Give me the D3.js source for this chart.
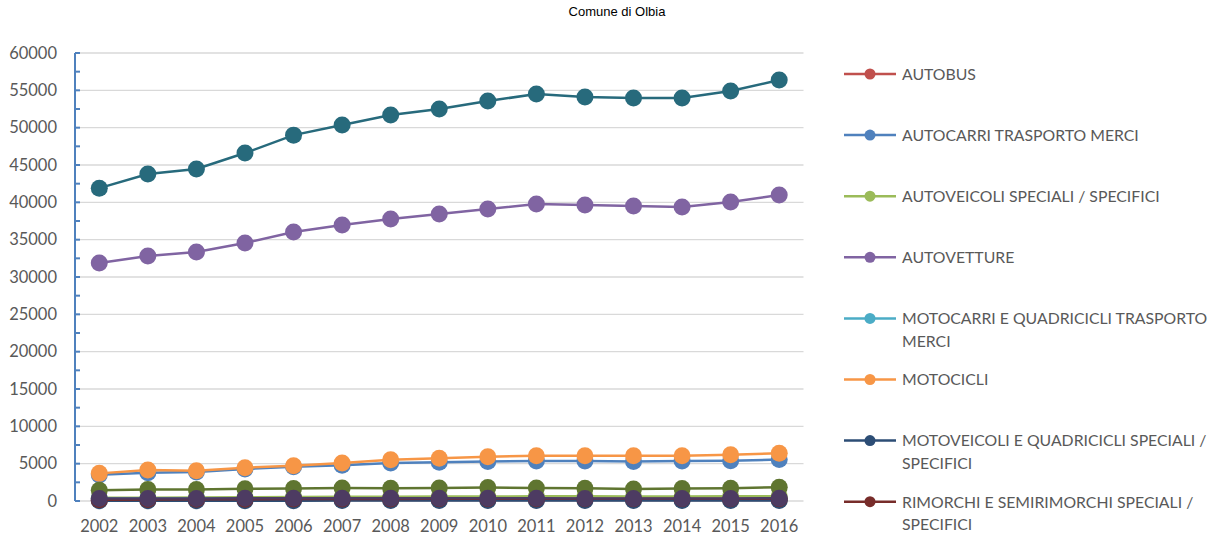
<!DOCTYPE html>
<html><head><meta charset="utf-8">
<script src="https://cdn.jsdelivr.net/npm/d3@7/dist/d3.min.js"></script>
<style>body{margin:0;background:#fff;} svg{display:block;}</style>
</head><body>
<svg id="c" width="1218" height="537"></svg>
<script>
const title = "Comune di Olbia";
const years = [2002,2003,2004,2005,2006,2007,2008,2009,2010,2011,2012,2013,2014,2015,2016];
const yTicks = [0,5000,10000,15000,20000,25000,30000,35000,40000,45000,50000,55000,60000];

const autobus      = [110,110,115,120,125,125,130,130,130,130,130,125,125,125,130];
const autocarri    = [3500,3800,3900,4300,4600,4800,5100,5200,5300,5350,5350,5300,5350,5400,5550];
const autoveicoli  = [420,450,470,500,530,560,580,600,610,620,620,610,610,620,650];
const autovetture  = [31870,32810,33350,34550,36030,36960,37770,38440,39100,39780,39640,39510,39370,40040,40980];
const motocarri    = [330,330,330,320,320,310,300,290,280,270,260,250,240,240,230];
const motocicli    = [3700,4150,4060,4460,4730,5090,5530,5720,5930,6070,6070,6070,6070,6200,6380];
const motoveicoli  = [30,35,40,45,50,55,60,60,65,65,65,65,65,65,70];
const rimorchiSpec = [180,200,220,240,260,270,280,290,300,300,300,300,300,300,300];
const rimorchiMerci= [1450,1550,1550,1650,1680,1750,1700,1750,1800,1750,1700,1600,1680,1700,1850];
const trattori     = [330,340,350,360,370,380,380,380,370,360,350,340,340,350,360];
const totale       = [41900,43790,44460,46600,49000,50350,51700,52500,53570,54500,54100,53970,53970,54900,56380];

const seriesNames = ["AUTOBUS","AUTOCARRI TRASPORTO MERCI","AUTOVEICOLI SPECIALI / SPECIFICI","AUTOVETTURE",
  "MOTOCARRI E QUADRICICLI TRASPORTO\nMERCI","MOTOCICLI","MOTOVEICOLI E QUADRICICLI SPECIALI /\nSPECIFICI",
  "RIMORCHI E SEMIRIMORCHI SPECIALI /\nSPECIFICI","RIMORCHI E SEMIRIMORCHI TRASPORTO MERCI","TRATTORI STRADALI O MOTRICI","TOTALE"];
const seriesValues = [autobus,autocarri,autoveicoli,autovetture,motocarri,motocicli,motoveicoli,rimorchiSpec,rimorchiMerci,trattori,totale];
const colors = ["#C0504D","#4F81BD","#9BBB59","#8064A2","#4BACC6","#F79646","#2C4D75","#772C2A","#5F7530","#4D3B62","#276A7C"];
const legendCount = 8;

const svg = d3.select("#c");
const font = "Lato, 'Open Sans', sans-serif";
const pL = 75, pR = 803.5, pT = 53, pB = 501;

const x = d3.scaleBand().domain(years).range([pL, pR]);
const y = d3.scaleLinear().domain([0, 60000]).range([pB, pT]);

svg.append("text").attr("x", 617).attr("y", 16).attr("text-anchor","middle")
  .attr("font-family","'Liberation Sans', Arial, sans-serif").attr("font-size",13).attr("fill","#000").text(title);

// gridlines
svg.append("g").selectAll("line").data(yTicks).join("line")
  .attr("x1", pL).attr("x2", pR).attr("y1", d=>y(d)).attr("y2", d=>y(d))
  .attr("stroke","#D9D9D9").attr("stroke-width",1.3);

// y axis
const yAxis = d3.axisLeft(y).tickValues(yTicks).tickSize(0).tickPadding(18).tickFormat(d3.format("d"));
const gy = svg.append("g").attr("transform",`translate(${pL},0)`).call(yAxis);
gy.select(".domain").remove();
gy.selectAll("text").attr("font-family",font).attr("font-size",16.5).attr("fill","#595959");
svg.append("line").attr("x1",pL).attr("x2",pL).attr("y1",y(60000)).attr("y2",y(0))
  .attr("stroke","#4F81BD").attr("stroke-width",2);
const minor = d3.range(0, 60001, 2500);
svg.append("g").selectAll("line").data(minor).join("line")
  .attr("x1",pL).attr("x2",pL+5).attr("y1",d=>y(d)).attr("y2",d=>y(d))
  .attr("stroke","#4F81BD").attr("stroke-width",2);

// x axis
const xAxis = d3.axisBottom(x).tickSize(0).tickPadding(19);
const gx = svg.append("g").attr("transform",`translate(0,${pB})`).call(xAxis);
gx.select(".domain").remove();
gx.selectAll("text").attr("font-family",font).attr("font-size",16.5).attr("fill","#595959");

const cx = d => x(d) + x.bandwidth()/2;
const line = d3.line().x((d,i)=>cx(years[i])).y(d=>y(d));

seriesValues.forEach((vals, si) => {
  const g = svg.append("g");
  g.append("path").datum(vals).attr("d", line).attr("fill","none")
    .attr("stroke", colors[si]).attr("stroke-width",2.5);
  g.selectAll("circle").data(vals).join("circle")
    .attr("cx",(d,i)=>cx(years[i])).attr("cy",d=>y(d)).attr("r",8.5).attr("fill",colors[si]);
});

// legend
const lg = svg.append("g");
for (let i = 0; i < legendCount; i++) {
  const yy = 74 + i*61.1;
  lg.append("line").attr("x1",844).attr("x2",896).attr("y1",yy).attr("y2",yy)
    .attr("stroke",colors[i]).attr("stroke-width",2.5);
  lg.append("circle").attr("cx",870).attr("cy",yy).attr("r",5.5).attr("fill",colors[i]);
  const t = lg.append("text").attr("x",902).attr("y",yy+5.8)
    .attr("font-family",font).attr("font-size",15.8).attr("fill","#595959");
  seriesNames[i].split("\n").forEach((s,k)=>{
    t.append("tspan").attr("x",902).attr("dy", k===0?0:22.5).text(s);
  });
}
</script>
</body></html>
